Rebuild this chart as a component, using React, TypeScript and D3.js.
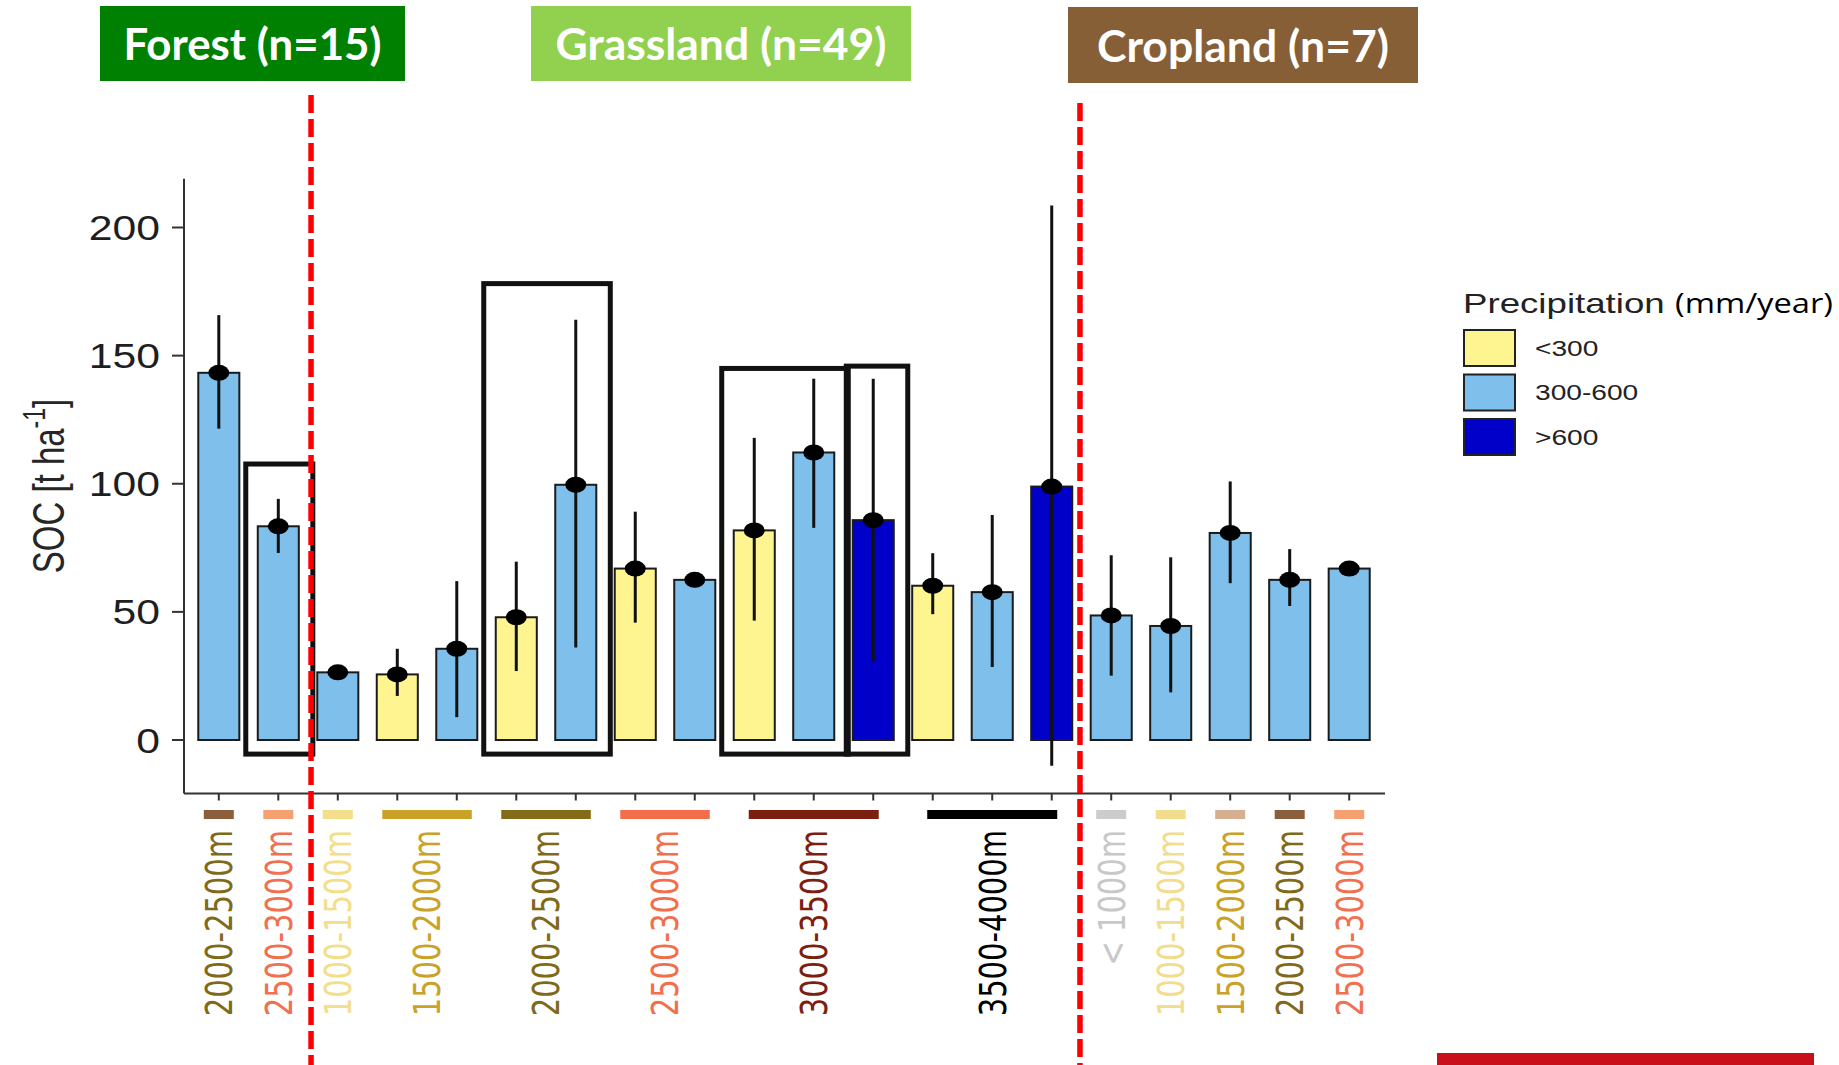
import React, { useEffect, useRef } from 'react';
import * as d3 from 'd3';

// SOC means and error ranges, one per bar (left to right)
const soc = [143.3, 83.4, 26.4, 25.6, 35.6, 47.9, 99.6, 66.9, 62.5, 81.8, 112.2, 85.8, 60.2, 57.7, 98.9, 48.6, 44.5, 80.8, 62.5, 66.9];
const socHigh = [165.8, 94.1, 28.5, 35.6, 62.0, 69.6, 164.0, 89.1, 64.0, 117.9, 141.0, 141.0, 72.9, 87.8, 208.6, 72.1, 71.3, 100.9, 74.5, 68.5];
const socLow = [121.5, 73.0, 24.5, 17.2, 8.9, 26.9, 36.1, 45.8, 61.0, 46.6, 82.8, 30.4, 49.1, 28.5, -10.0, 25.1, 18.6, 61.2, 52.3, 65.5];
const precipClass = [1, 1, 1, 0, 1, 0, 1, 0, 1, 0, 1, 2, 0, 1, 2, 1, 1, 1, 1, 1];

const precipLabels = ['<300', '300-600', '>600'];
const yTicks = [0, 50, 100, 150, 200];

const landUse = ['Forest (n=15)', 'Grassland (n=49)', 'Cropland (n=7)'];
const dividerAfter = [1, 14];

// elevation groups under the x axis
const elevLabels = ['2000-2500m', '2500-3000m', '1000-1500m', '1500-2000m', '2000-2500m', '2500-3000m', '3000-3500m', '3500-4000m', '< 1000m', '1000-1500m', '1500-2000m', '2000-2500m', '2500-3000m'];
const elevFirst = [0, 1, 2, 3, 5, 7, 9, 12, 15, 16, 17, 18, 19];
const elevLast = [0, 1, 2, 4, 6, 8, 11, 14, 15, 16, 17, 18, 19];

// highlighted bar groups
const boxFirst = [1, 5, 9, 11];
const boxLast = [1, 6, 10, 11];
const boxTop = [107.7, 178.1, 145.0, 145.9];

// styles
const precipColors = ['#FFF590', '#7FBFEB', '#0000C8'];
const elevBarColors = ['#8B5E3C', '#F4A070', '#F3DE8A', '#C9A227', '#836B17', '#F26E4C', '#7B2010', '#000000', '#CCCCCC', '#F2DC8D', '#D4B090', '#8B5E3C', '#F4A070'];
const elevTextColors = ['#7F6A1A', '#F07050', '#F3DE8A', '#C9A227', '#7F6A1A', '#F26E4C', '#7B2010', '#000000', '#C8C8C8', '#F2DC8D', '#C9A227', '#7F6A1A', '#F07050'];
const headerColors = ['#008000', '#92D050', '#875F37'];
const headerLayout = [
  { x0: 100, x1: 405, y0: 6, y1: 81, tw: 258, base: 60, fs: 44 },
  { x0: 531, x1: 911, y0: 6, y1: 81, tw: 331, base: 60, fs: 44 },
  { x0: 1068, x1: 1418, y0: 7, y1: 83, tw: 292, base: 62, fs: 43 },
];

const W = 1839;
const H = 1065;
const sans = "'Liberation Sans', Arial, sans-serif";

const App = () => {
  const ref = useRef<SVGSVGElement>(null);

  useEffect(() => {
    document.body.style.margin = '0';
    const svg = d3.select(ref.current);
    svg.selectAll('*').remove();

    svg.append('rect').attr('width', W).attr('height', H).attr('fill', '#fff');

    const x = d3.scaleBand<number>().domain(d3.range(soc.length)).range([184, 1384]).paddingInner(0.31).paddingOuter(0.24);
    const y = d3.scaleLinear().domain([0, 200]).range([740, 227.5]);
    const bw = x.bandwidth();
    const cx = (i: number) => (x(i) as number) + bw / 2;
    const panelTop = 178.7;
    const panelBottom = 793.5;

    // land use headers
    landUse.forEach((t, i) => {
      const l = headerLayout[i];
      svg.append('rect')
        .attr('x', l.x0).attr('y', l.y0)
        .attr('width', l.x1 - l.x0).attr('height', l.y1 - l.y0)
        .attr('fill', headerColors[i]);
      svg.append('text')
        .attr('x', (l.x0 + l.x1) / 2).attr('y', l.base)
        .attr('text-anchor', 'middle')
        .attr('font-family', "Lato, 'Open Sans', sans-serif")
        .attr('font-weight', 700)
        .attr('font-size', l.fs)
        .attr('fill', '#fff')
        .attr('textLength', l.tw)
        .attr('lengthAdjust', 'spacingAndGlyphs')
        .text(t);
    });

    // axes
    svg.append('line').attr('x1', 184).attr('x2', 184).attr('y1', panelTop).attr('y2', panelBottom)
      .attr('stroke', '#333').attr('stroke-width', 2);
    svg.append('line').attr('x1', 184).attr('x2', 1385).attr('y1', panelBottom).attr('y2', panelBottom)
      .attr('stroke', '#333').attr('stroke-width', 2);

    yTicks.forEach((t) => {
      svg.append('line').attr('x1', 172).attr('x2', 184).attr('y1', y(t)).attr('y2', y(t))
        .attr('stroke', '#333').attr('stroke-width', 2);
      svg.append('g')
        .attr('transform', `translate(160, ${y(t)}) scale(1.22, 1)`)
        .append('text')
        .attr('text-anchor', 'end')
        .attr('dy', '0.36em')
        .attr('font-family', sans)
        .attr('font-size', 35)
        .attr('fill', '#1e1e1e')
        .text(t);
    });

    soc.forEach((_, i) => {
      svg.append('line').attr('x1', cx(i)).attr('x2', cx(i)).attr('y1', panelBottom).attr('y2', panelBottom + 7)
        .attr('stroke', '#333').attr('stroke-width', 2);
    });

    // y title
    const yt = svg.append('g')
      .attr('transform', 'translate(64, 486) scale(1.35, 1) rotate(-90)')
      .append('text')
      .attr('text-anchor', 'middle')
      .attr('font-family', sans)
      .attr('font-size', 33)
      .attr('fill', '#262626');
    yt.append('tspan').text('SOC [t ha');
    yt.append('tspan').attr('font-size', 23).attr('dy', -14).text('-1');
    yt.append('tspan').attr('dy', 14).text(']');

    // bars
    svg.append('g').selectAll('rect')
      .data(soc)
      .join('rect')
      .attr('x', (_, i) => x(i) as number)
      .attr('y', (d) => y(d))
      .attr('width', bw)
      .attr('height', (d) => y(0) - y(d))
      .attr('fill', (_, i) => precipColors[precipClass[i]])
      .attr('stroke', '#1b1b1b')
      .attr('stroke-width', 2);

    // error ranges
    svg.append('g').selectAll('line')
      .data(soc)
      .join('line')
      .attr('x1', (_, i) => cx(i)).attr('x2', (_, i) => cx(i))
      .attr('y1', (_, i) => y(socLow[i])).attr('y2', (_, i) => y(socHigh[i]))
      .attr('stroke', '#111').attr('stroke-width', 3);

    svg.append('g').selectAll('ellipse')
      .data(soc)
      .join('ellipse')
      .attr('cx', (_, i) => cx(i)).attr('cy', (d) => y(d))
      .attr('rx', 10.5).attr('ry', 8)
      .attr('fill', '#000');

    // highlight boxes
    let prevRight = -Infinity;
    boxFirst.forEach((f, k) => {
      const left = Math.max((x(f) as number) - 12, prevRight - 2);
      const right = (x(boxLast[k]) as number) + bw + 14;
      prevRight = right;
      svg.append('rect')
        .attr('x', left).attr('y', y(boxTop[k]))
        .attr('width', right - left).attr('height', y(-5.5) - y(boxTop[k]))
        .attr('fill', 'none').attr('stroke', '#111').attr('stroke-width', 5);
    });

    // elevation bands and labels
    elevLabels.forEach((lab, k) => {
      const a = elevFirst[k];
      const b = elevLast[k];
      const center = (cx(a) + cx(b)) / 2;
      const span = Math.min(30 + (b - a) * x.step(), 130);
      svg.append('rect')
        .attr('x', center - span / 2).attr('y', 810)
        .attr('width', span).attr('height', 9)
        .attr('fill', elevBarColors[k]);
      svg.append('g')
        .attr('transform', `translate(${center}, 830) scale(1.28, 1) rotate(-90)`)
        .append('text')
        .attr('text-anchor', 'end')
        .attr('dy', '0.36em')
        .attr('font-family', "'DejaVu Sans', sans-serif")
        .attr('font-size', 29)
        .attr('fill', elevTextColors[k])
        .text(lab);
    });

    // land use dividers
    dividerAfter.forEach((i, k) => {
      const xm = ((x(i) as number) + bw + (x(i + 1) as number)) / 2 + (k === 0 ? 3 : -1.5);
      svg.append('line')
        .attr('x1', xm).attr('x2', xm)
        .attr('y1', k === 0 ? 95 : 103).attr('y2', H)
        .attr('stroke', '#FF0000').attr('stroke-width', 5.5)
        .attr('stroke-dasharray', '18 6');
    });

    // legend
    const lg = svg.append('g');
    lg.append('g').attr('transform', 'translate(1463, 313) scale(1.31, 1)')
      .append('text')
      .attr('font-family', sans).attr('font-size', 28).attr('fill', '#222')
      .text('Precipitation');
    lg.append('text')
      .attr('x', 1675).attr('y', 313)
      .attr('font-family', "'Open Sans', sans-serif").attr('font-size', 28).attr('fill', '#000')
      .attr('textLength', 158).attr('lengthAdjust', 'spacingAndGlyphs')
      .text('(mm/year)');
    const keyY = d3.scalePoint<string>().domain(precipLabels).range([348, 437]);
    precipLabels.forEach((p, i) => {
      const cy = keyY(p) as number;
      lg.append('rect')
        .attr('x', 1464).attr('y', cy - 18)
        .attr('width', 51).attr('height', 36)
        .attr('fill', precipColors[i]).attr('stroke', '#222').attr('stroke-width', 2);
      lg.append('g').attr('transform', `translate(1535, ${cy}) scale(1.28, 1)`)
        .append('text')
        .attr('dy', '0.36em')
        .attr('font-family', sans).attr('font-size', 22).attr('fill', '#222')
        .text(p);
    });

    // footer bar
    svg.append('rect').attr('x', 1437).attr('y', 1053).attr('width', 377).attr('height', 12).attr('fill', '#C8101A');
  }, []);

  return (
    <svg ref={ref} width={W} height={H} style={{ position: 'absolute', left: 0, top: 0, display: 'block' }} />
  );
};

export default App;
